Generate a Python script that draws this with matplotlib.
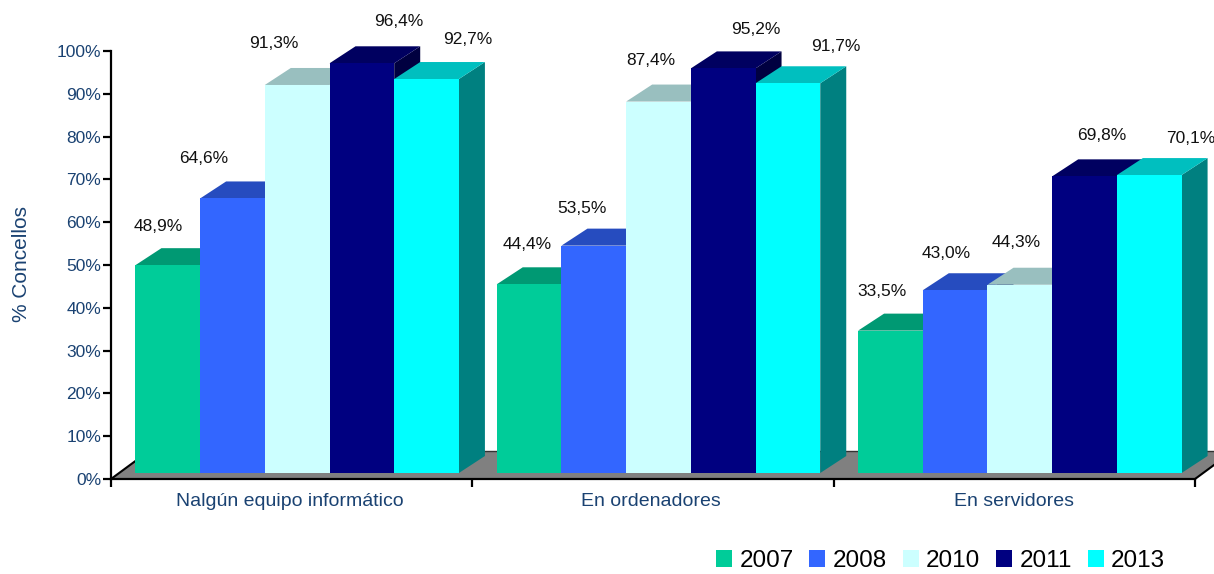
import numpy as np
import matplotlib
matplotlib.use('Agg')
import matplotlib.pyplot as plt
from matplotlib.patches import Polygon, Patch

categories = ['Nalgún equipo informático', 'En ordenadores', 'En servidores']
years = ['2007', '2008', '2010', '2011', '2013']
v2007 = [48.9, 44.4, 33.5]
v2008 = [64.6, 53.5, 43.0]
v2010 = [91.3, 87.4, 44.3]
v2011 = [96.4, 95.2, 69.8]
v2013 = [92.7, 91.7, 70.1]
series = [v2007, v2008, v2010, v2011, v2013]

colors = ['#00CC99', '#3366FF', '#CCFFFF', '#000080', '#00FFFF']
tops = ['#009973', '#264CBF', '#99BFBF', '#000060', '#00BFBF']
sides = ['#00664D', '#193380', '#668080', '#000040', '#008080']

# Desplazamiento de cada etiqueta respecto al centro de la barra (pixeles)
label_dx = [[-10, -2, -8], [-29, -12, -9], [-23, -8, -4], [37, 33, 17], [41, 48, 42]]
label_dy = [[39, 40, 39], [40, 37, 37], [41, 41, 42], [42, 39, 41], [40, 37, 37]]

plt.rcParams['font.family'] = ['Liberation Sans', 'DejaVu Sans']
text_color = '#1A4272'

W, H = 1214, 574
fig = plt.figure(figsize=(W / 100, H / 100), dpi=100)
ax = fig.add_axes([111 / W, (H - 479) / H, 1084 / W, 428 / H])
ax.set_xlim(0, 3)
ax.set_ylim(0, 100)

# Conversion de pixeles a unidades de datos
px = 3 / 1084
py = 100 / 428

# Suelo gris
floor_dx, floor_dy = 38 * px, 28 * py
ax.add_patch(Polygon([(0, 0), (3, 0), (3 + floor_dx, floor_dy), (floor_dx, floor_dy)],
                     closed=True, facecolor='#808080', edgecolor='none', clip_on=False, zorder=1))
ax.plot([floor_dx, 3 + floor_dx], [floor_dy, floor_dy], color='#333333', lw=1, clip_on=False, zorder=1)
ax.plot([0, floor_dx], [0, floor_dy], color='black', lw=1.5, clip_on=False, zorder=1)
ax.plot([3, 3 + floor_dx], [0, floor_dy], color='black', lw=1.5, clip_on=False, zorder=1)

# Barras con efecto 3D
bar_w = 64.7 * px
base_y = 6 * py
depth_x, depth_y = 26 * px, 17 * py
centers = np.arange(3) + 0.5 + 5.5 * px

z = 2
for g in range(3):
    for s, vals in enumerate(series):
        x0 = centers[g] + (s - 2.5) * bar_w
        x1 = x0 + bar_w
        y0 = base_y
        y1 = base_y + vals[g] * (4.25 * py)
        ax.add_patch(Polygon([(x1, y0), (x1 + depth_x, y0 + depth_y), (x1 + depth_x, y1 + depth_y), (x1, y1)],
                             closed=True, facecolor=sides[s], edgecolor='none', clip_on=False, zorder=z))
        ax.add_patch(Polygon([(x0, y1), (x1, y1), (x1 + depth_x, y1 + depth_y), (x0 + depth_x, y1 + depth_y)],
                             closed=True, facecolor=tops[s], edgecolor='none', clip_on=False, zorder=z))
        ax.add_patch(Polygon([(x0, y0), (x1, y0), (x1, y1), (x0, y1)],
                             closed=True, facecolor=colors[s], edgecolor='none', clip_on=False, zorder=z))
        z += 1
        ax.annotate(f'{vals[g]:.1f}%'.replace('.', ','), xy=((x0 + x1) / 2, y1),
                    xytext=(label_dx[s][g], label_dy[s][g]), textcoords='offset pixels',
                    ha='center', va='center', fontsize=12.5, color='#111111',
                    annotation_clip=False, zorder=50)

# Ejes
for name in ['top', 'right']:
    ax.spines[name].set_visible(False)
for name in ['left', 'bottom']:
    ax.spines[name].set_linewidth(1.6)
    ax.spines[name].set_zorder(40)

ax.set_yticks(np.arange(0, 101, 10))
ax.set_yticklabels([f'{t}%' for t in range(0, 101, 10)], fontsize=12.5, color=text_color)
ax.set_xticks([0, 1, 2, 3])
ax.set_xticklabels([])
ax.set_xticks([0.495, 1.495, 2.5], minor=True)
ax.set_xticklabels(categories, minor=True, fontsize=14, color=text_color)
ax.tick_params(axis='both', which='major', length=6, width=1.6, color='black', pad=1)
ax.tick_params(axis='x', which='minor', length=0, pad=10)

fig.text(22 / W, 1 - 264 / H, '% Concellos', rotation=90, ha='center', va='center',
         fontsize=15, color=text_color)

handles = [Patch(facecolor=c, edgecolor='none', label=y) for c, y in zip(colors, years)]
fig.legend(handles=handles, loc='center right', bbox_to_anchor=(1165 / W, 1 - 561 / H), ncol=5,
           frameon=False, fontsize=17.5, handlelength=0.66, handleheight=0.66,
           handletextpad=0.3, columnspacing=0.65, borderpad=0, borderaxespad=0)

fig.savefig('out.png', dpi=100)
